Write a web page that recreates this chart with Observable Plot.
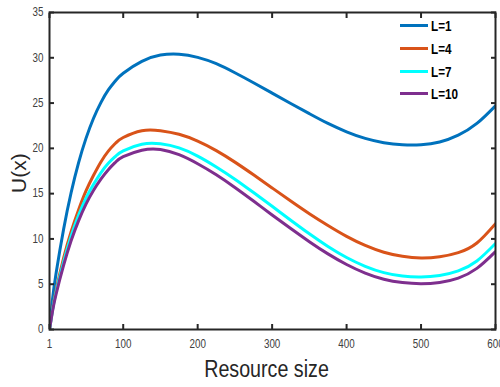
<!DOCTYPE html>
<html>
<head>
<meta charset="utf-8">
<script src="https://cdn.jsdelivr.net/npm/d3@7"></script>
<script src="https://cdn.jsdelivr.net/npm/@observablehq/plot@0.6"></script>
<style>
  html, body { margin: 0; padding: 0; background: #fff; }
  #wrap { position: relative; width: 500px; height: 387px; font-family: "Liberation Sans", Arial, sans-serif; }
  #legend { position: absolute; left: 400px; top: 14px; }
  .item { position: absolute; left: 0; height: 20px; width: 80px; }
  .swatch { position: absolute; left: 0; top: 9px; width: 28px; height: 3px; }
  .lab { position: absolute; left: 31px; top: 1px; font-weight: bold; font-size: 15px; color: #000; white-space: nowrap; line-height: 20px; transform: scaleX(0.78); transform-origin: 0 50%; }
</style>
</head>
<body>
<div id="wrap"><div id="legend"></div></div>
<script>
const seriesNames = ["L=1", "L=4", "L=7", "L=10"];
const seriesColors = ["#0072BD", "#D95319", "#00FFFF", "#7E2F8E"];
const xs   = [1, 5, 10, 20, 30, 40, 50, 60, 70, 80, 90, 100, 125, 150, 175, 200, 225, 250, 275, 300, 325, 350, 375, 400, 425, 450, 475, 500, 525, 550, 575, 600];
const uL1  = [0, 3.3, 6.3, 11.1, 15.1, 18.4, 21.1, 23.3, 25.05, 26.45, 27.5, 28.3, 29.6, 30.3, 30.4, 30.05, 29.35, 28.35, 27.25, 26.1, 24.95, 23.83, 22.75, 21.83, 21.1, 20.63, 20.4, 20.4, 20.7, 21.45, 22.75, 24.7];
const uL4  = [0, 2.2, 4.4, 7.9, 10.8, 13.2, 15.3, 17.0, 18.5, 19.7, 20.6, 21.2, 21.95, 21.95, 21.55, 20.8, 19.75, 18.48, 17.08, 15.63, 14.18, 12.78, 11.48, 10.28, 9.28, 8.53, 8.08, 7.9, 8.03, 8.48, 9.55, 11.68];
const uL7  = [0, 2.1, 4.2, 7.5, 10.3, 12.6, 14.5, 16.0, 17.3, 18.35, 19.15, 19.72, 20.45, 20.5, 20.05, 19.15, 17.95, 16.6, 15.12, 13.6, 12.07, 10.57, 9.17, 7.95, 6.98, 6.28, 5.9, 5.8, 5.97, 6.47, 7.57, 9.5];
const uL10 = [0, 2.0, 3.95, 7.1, 9.8, 12.0, 13.85, 15.35, 16.6, 17.65, 18.5, 19.08, 19.8, 19.88, 19.3, 18.3, 17.08, 15.68, 14.18, 12.65, 11.15, 9.7, 8.35, 7.18, 6.23, 5.55, 5.18, 5.06, 5.2, 5.68, 6.75, 8.6];
const xTicks = [1, 100, 200, 300, 400, 500, 600];
const yTicks = [0, 5, 10, 15, 20, 25, 30, 35];
const xLabel = "Resource size";
const yLabel = "U(x)";

const allVals = [uL1, uL4, uL7, uL10];
const data = seriesNames.flatMap((s, i) => xs.map((x, j) => ({x, y: allVals[i][j], s})));

const axisFont = "#404040";
const chart = Plot.plot({
  width: 500,
  height: 387,
  marginLeft: 49,
  marginRight: 5,
  marginTop: 12,
  marginBottom: 58,
  x: {domain: [1, 600]},
  y: {domain: [0, 35]},
  color: {domain: seriesNames, range: seriesColors},
  style: {fontFamily: '"Liberation Sans", Arial, sans-serif', background: "#fff", overflow: "visible"},
  marks: [
    Plot.line(data, {x: "x", y: "y", z: "s", stroke: "s", strokeWidth: 3, curve: "natural", clip: true}),
    Plot.axisX({ticks: xTicks, tickSize: -5, tickPadding: 15, strokeWidth: 2, stroke: "#262626", fontSize: 12, fill: axisFont, tickFormat: d => String(d), label: null}),
    Plot.axisX({anchor: "top", ticks: xTicks, tickSize: -5, strokeWidth: 2, stroke: "#262626", tickFormat: () => "", label: null}),
    Plot.axisY({ticks: yTicks, tickSize: -5, tickPadding: 11, strokeWidth: 2, stroke: "#262626", fontSize: 12, fill: axisFont, tickFormat: d => String(d), label: null}),
    Plot.axisY({anchor: "right", ticks: yTicks, tickSize: -5, strokeWidth: 2, stroke: "#262626", tickFormat: () => "", label: null}),
    Plot.frame({stroke: "#262626", strokeWidth: 2}),
    Plot.text([xLabel], {frameAnchor: "bottom", dx: -6, dy: 47, fontSize: 24, fill: "#262626", text: d => d}),
    Plot.text([yLabel], {frameAnchor: "left", dx: -30, dy: 22, fontSize: 21, fill: "#262626", rotate: -90, text: d => d})
  ]
});
document.getElementById("wrap").prepend(chart);

// condense horizontal text to mimic the narrow face of the original
d3.select(chart).selectAll("text").each(function () {
  const t = d3.select(this);
  const tr = t.attr("transform") || "";
  if (tr.includes("rotate") || !tr.includes("translate")) return;
  t.attr("transform", tr + " scale(0.82,1)");
});

const legend = document.getElementById("legend");
const legendRows = [25, 48, 70.5, 93];
seriesNames.forEach((name, i) => {
  const item = document.createElement("div");
  item.className = "item";
  item.style.top = (legendRows[i] - 14 - 10) + "px";
  item.innerHTML = `<div class="swatch" style="background:${seriesColors[i]}"></div><div class="lab">${name}</div>`;
  legend.appendChild(item);
});
</script>
</body>
</html>
